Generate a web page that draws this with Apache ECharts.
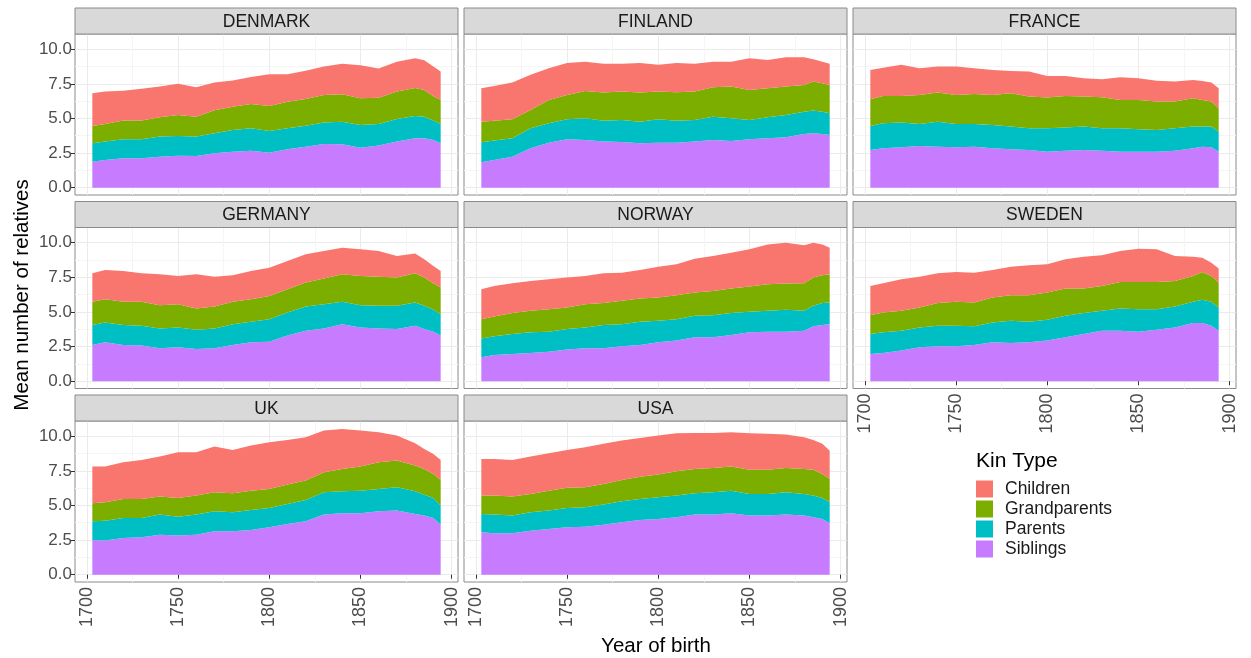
<!DOCTYPE html>
<html>
<head>
<meta charset="utf-8">
<script src="https://cdn.jsdelivr.net/npm/echarts@6/dist/echarts.min.js"></script>
<style>
html,body{margin:0;padding:0;background:#fff;}
#chart{width:1251px;height:658px;}
</style>
</head>
<body>
<div id="chart"></div>
<script>
// ---------- data ----------
const years = [1703,1710,1720,1730,1740,1750,1760,1770,1780,1790,1800,1810,1820,1830,1840,1850,1860,1870,1880,1885,1890,1894];
const countries = ['DENMARK','FINLAND','FRANCE','GERMANY','NORWAY','SWEDEN','UK','USA'];
const kinTypes = ['Children','Grandparents','Parents','Siblings'];
const yTicks = [0, 2.5, 5, 7.5, 10];
const yMinorTicks = [1.25, 3.75, 6.25, 8.75];
const xTicks = [1700, 1750, 1800, 1850, 1900];
const xMinorTicks = [1725, 1775, 1825, 1875];

const denmarkSiblings     = [1.88,2.00,2.12,2.12,2.24,2.31,2.29,2.48,2.60,2.67,2.53,2.77,2.96,3.16,3.13,2.89,3.04,3.33,3.57,3.57,3.45,3.20];
const denmarkParents      = [1.32,1.33,1.38,1.38,1.46,1.42,1.41,1.45,1.57,1.63,1.57,1.53,1.52,1.54,1.64,1.64,1.56,1.63,1.61,1.56,1.40,1.40];
const denmarkGrandparents = [1.26,1.27,1.35,1.35,1.38,1.52,1.43,1.67,1.68,1.75,1.80,1.90,1.92,2.00,1.98,1.92,1.90,1.99,2.02,1.92,1.75,1.75];
const denmarkChildren     = [2.36,2.34,2.15,2.30,2.22,2.25,2.12,2.00,1.90,1.95,2.30,2.00,2.05,2.05,2.20,2.40,2.10,2.15,2.15,2.15,2.15,2.05];

const finlandSiblings     = [1.83,2.00,2.24,2.84,3.25,3.49,3.45,3.33,3.30,3.20,3.25,3.25,3.33,3.45,3.37,3.49,3.57,3.64,3.88,3.93,3.88,3.81];
const finlandParents      = [1.45,1.40,1.33,1.45,1.40,1.45,1.56,1.51,1.59,1.57,1.69,1.59,1.56,1.68,1.64,1.40,1.51,1.61,1.61,1.64,1.61,1.56];
const finlandGrandparents = [1.49,1.44,1.37,1.32,1.69,1.76,1.98,2.03,2.05,2.10,2.00,2.05,2.05,2.12,2.29,2.17,2.10,2.05,1.93,2.09,2.05,2.05];
const finlandChildren     = [2.41,2.51,2.66,2.54,2.29,2.30,2.11,2.08,2.01,2.13,1.93,2.11,2.01,1.85,1.80,2.29,2.05,2.12,2.00,1.62,1.56,1.53];

const franceSiblings      = [2.72,2.84,2.92,3.01,2.96,2.92,2.96,2.84,2.77,2.72,2.60,2.67,2.72,2.67,2.60,2.60,2.60,2.67,2.84,2.96,2.92,2.60];
const franceParents       = [1.74,1.81,1.78,1.59,1.81,1.68,1.64,1.69,1.64,1.57,1.69,1.67,1.69,1.62,1.69,1.62,1.57,1.62,1.57,1.45,1.49,1.45];
const franceGrandparents  = [1.93,1.98,1.93,2.10,2.10,2.10,2.17,2.17,2.41,2.29,2.22,2.29,2.17,2.24,2.05,2.12,2.05,1.93,2.05,1.93,1.81,1.68];
const franceChildren      = [2.11,2.04,2.24,1.93,1.88,2.05,1.86,1.80,1.61,1.81,1.56,1.44,1.32,1.30,1.64,1.56,1.51,1.44,1.32,1.37,1.37,1.45];

const germanySiblings     = [2.61,2.81,2.61,2.57,2.37,2.45,2.33,2.37,2.61,2.81,2.85,3.29,3.65,3.81,4.12,3.88,3.81,3.77,4.00,3.77,3.57,3.29];
const germanyParents      = [1.44,1.43,1.44,1.43,1.44,1.43,1.39,1.44,1.51,1.48,1.63,1.67,1.75,1.75,1.61,1.61,1.63,1.67,1.68,1.67,1.59,1.55];
const germanyGrandparents = [1.68,1.68,1.68,1.73,1.68,1.68,1.53,1.59,1.61,1.63,1.68,1.68,1.72,1.85,1.99,2.11,2.11,2.04,2.11,2.04,1.91,1.92];
const germanyChildren     = [2.06,2.11,2.23,2.06,2.23,2.04,2.47,2.15,1.92,2.04,2.04,2.04,2.04,1.99,1.92,1.92,1.85,1.56,1.44,1.32,1.25,1.20];

const norwaySiblings      = [1.73,1.89,1.97,2.04,2.13,2.28,2.37,2.37,2.52,2.61,2.81,2.93,3.17,3.17,3.33,3.53,3.57,3.57,3.65,3.96,4.05,4.12];
const norwayParents       = [1.36,1.35,1.44,1.49,1.44,1.49,1.51,1.68,1.60,1.68,1.55,1.55,1.55,1.60,1.59,1.48,1.51,1.59,1.43,1.48,1.59,1.56];
const norwayGrandparents  = [1.39,1.44,1.51,1.55,1.63,1.55,1.68,1.59,1.68,1.68,1.68,1.73,1.68,1.75,1.77,1.82,1.92,1.89,1.99,2.04,2.01,2.04];
const norwayChildren      = [2.16,2.20,2.15,2.16,2.16,2.16,2.04,2.15,2.04,2.06,2.23,2.23,2.45,2.52,2.59,2.69,2.88,2.95,2.74,2.52,2.23,1.92];

const swedenSiblings      = [1.97,2.04,2.21,2.45,2.52,2.52,2.61,2.81,2.76,2.81,2.93,3.17,3.41,3.65,3.65,3.57,3.72,3.88,4.20,4.20,4.00,3.65];
const swedenParents       = [1.44,1.49,1.44,1.43,1.48,1.48,1.35,1.43,1.60,1.48,1.51,1.55,1.51,1.43,1.60,1.63,1.48,1.52,1.53,1.68,1.73,1.67];
const swedenGrandparents  = [1.36,1.43,1.43,1.44,1.64,1.73,1.72,1.80,1.85,1.92,1.96,1.97,1.77,1.80,1.92,1.97,1.97,1.84,1.87,2.01,1.87,1.80];
const swedenChildren      = [2.11,2.11,2.28,2.23,2.15,2.16,2.16,1.99,2.06,2.16,2.04,2.11,2.30,2.21,2.23,2.40,2.35,1.80,1.39,1.03,0.96,1.01];

const ukSiblings          = [2.51,2.46,2.65,2.70,2.89,2.82,2.89,3.13,3.13,3.23,3.42,3.66,3.86,4.34,4.43,4.43,4.58,4.63,4.39,4.27,4.10,3.61];
const ukParents           = [1.35,1.44,1.45,1.40,1.45,1.37,1.45,1.45,1.38,1.44,1.40,1.45,1.54,1.61,1.59,1.64,1.61,1.68,1.63,1.51,1.44,1.38];
const ukGrandparents      = [1.30,1.33,1.37,1.37,1.30,1.35,1.37,1.37,1.37,1.40,1.37,1.40,1.40,1.45,1.62,1.74,1.93,1.93,1.86,1.86,1.74,1.85];
const ukChildren          = [2.65,2.58,2.65,2.82,2.89,3.30,3.13,3.30,3.13,3.26,3.38,3.22,3.13,3.01,2.89,2.60,2.17,1.81,1.61,1.44,1.44,1.45];

const usaSiblings         = [3.06,2.99,2.99,3.18,3.30,3.42,3.47,3.61,3.78,3.95,4.02,4.14,4.34,4.34,4.43,4.27,4.27,4.34,4.27,4.14,4.02,3.71];
const usaParents          = [1.33,1.35,1.28,1.33,1.33,1.40,1.40,1.45,1.52,1.52,1.57,1.57,1.54,1.61,1.64,1.56,1.56,1.61,1.56,1.57,1.52,1.52];
const usaGrandparents     = [1.32,1.37,1.37,1.32,1.44,1.45,1.44,1.49,1.54,1.61,1.64,1.76,1.76,1.76,1.74,1.74,1.74,1.76,1.81,1.86,1.74,1.69];
const usaChildren         = [2.65,2.65,2.65,2.70,2.70,2.74,2.89,2.90,2.85,2.80,2.82,2.75,2.60,2.53,2.48,2.65,2.60,2.41,2.29,2.16,2.17,2.04];

// ---------- lookup built from the arrays ----------
const valuesByCountry = {
  DENMARK: {Siblings: denmarkSiblings, Parents: denmarkParents, Grandparents: denmarkGrandparents, Children: denmarkChildren},
  FINLAND: {Siblings: finlandSiblings, Parents: finlandParents, Grandparents: finlandGrandparents, Children: finlandChildren},
  FRANCE:  {Siblings: franceSiblings,  Parents: franceParents,  Grandparents: franceGrandparents,  Children: franceChildren},
  GERMANY: {Siblings: germanySiblings, Parents: germanyParents, Grandparents: germanyGrandparents, Children: germanyChildren},
  NORWAY:  {Siblings: norwaySiblings,  Parents: norwayParents,  Grandparents: norwayGrandparents,  Children: norwayChildren},
  SWEDEN:  {Siblings: swedenSiblings,  Parents: swedenParents,  Grandparents: swedenGrandparents,  Children: swedenChildren},
  UK:      {Siblings: ukSiblings,      Parents: ukParents,      Grandparents: ukGrandparents,      Children: ukChildren},
  USA:     {Siblings: usaSiblings,     Parents: usaParents,     Grandparents: usaGrandparents,     Children: usaChildren}
};

// ---------- styling / layout ----------
const kinColors = {Children:'#F8766D', Grandparents:'#7CAE00', Parents:'#00BFC4', Siblings:'#C77CFF'};
const stackOrder = ['Siblings','Parents','Grandparents','Children'];
const FONT = '"Liberation Sans", Arial, sans-serif';
const colLeft = [75, 464, 853];
const panelW = 383;
const stripTop = [8, 201.5, 395];
const stripH = 26;
const plotH = 161;
const xMin = 1693.5, xMax = 1903.5;
const yMin = -0.53, yMax = 11.1;
const gridMajor = '#EBEBEB', gridMinor = '#F5F5F5';
const borderCol = '#8A8A8A';

const grids = [], xAxes = [], yAxes = [], series = [], graphics = [];

countries.forEach((c, i) => {
  const row = Math.floor(i / 3), col = i % 3;
  const left = colLeft[col], top = stripTop[row] + stripH;
  const showX = (row === 2) || (row === 1 && col === 2);
  const showY = (col === 0);
  grids.push({left: left, top: top, width: panelW, height: plotH, show: true,
    backgroundColor: '#fff', borderColor: borderCol, borderWidth: 1, containLabel: false});
  // main x axis
  xAxes.push({type: 'value', gridIndex: i, min: xMin, max: xMax, position: 'bottom',
    axisLine: {show: false},
    axisTick: {show: showX, customValues: xTicks, length: 4, lineStyle: {color: '#333'}},
    axisLabel: {show: showX, customValues: xTicks, rotate: 90, margin: 5,
      fontFamily: FONT, fontSize: 18, color: '#4D4D4D', formatter: v => String(v)},
    splitLine: {show: true, lineStyle: {color: gridMajor, width: 1}}});
  // minor x axis (grid lines only)
  xAxes.push({type: 'value', gridIndex: i, min: xMin, max: xMax, position: 'top',
    axisLine: {show: false},
    axisTick: {show: false, customValues: xMinorTicks},
    axisLabel: {show: false},
    splitLine: {show: true, lineStyle: {color: gridMinor, width: 1}}});
  yAxes.push({type: 'value', gridIndex: i, min: yMin, max: yMax, position: 'left',
    axisLine: {show: false},
    axisTick: {show: showY, customValues: yTicks, length: 4, lineStyle: {color: '#333'}},
    axisLabel: {show: showY, customValues: yTicks, margin: 3,
      fontFamily: FONT, fontSize: 17, color: '#4D4D4D', formatter: v => v.toFixed(1)},
    splitLine: {show: true, lineStyle: {color: gridMajor, width: 1}}});
  yAxes.push({type: 'value', gridIndex: i, min: yMin, max: yMax, position: 'right',
    axisLine: {show: false},
    axisTick: {show: false, customValues: yMinorTicks},
    axisLabel: {show: false},
    splitLine: {show: true, lineStyle: {color: gridMinor, width: 1}}});

  stackOrder.forEach(k => {
    const vals = valuesByCountry[c][k];
    series.push({
      name: k, type: 'line', xAxisIndex: 2 * i, yAxisIndex: 2 * i,
      stack: 'kin' + i, showSymbol: false, symbol: 'none', smooth: false,
      lineStyle: {width: 0}, itemStyle: {color: kinColors[k]},
      areaStyle: {color: kinColors[k], opacity: 1},
      silent: true, z: 2,
      // value first so that the library stacks the value dimension (y)
      encode: {x: 1, y: 0},
      data: years.map((y, j) => [vals[j], y])
    });
  });

  // strip
  graphics.push({type: 'rect', shape: {x: left, y: stripTop[row], width: panelW, height: stripH},
    style: {fill: '#D9D9D9', stroke: borderCol, lineWidth: 1}, z: 10});
  graphics.push({type: 'text', x: left + panelW / 2, y: stripTop[row] + stripH / 2 + 1,
    style: {text: c, fill: '#1A1A1A', font: '17.5px ' + FONT, align: 'center', verticalAlign: 'middle'}, z: 11});
});

// axis titles and legend title
graphics.push({type: 'text', x: 656, y: 646,
  style: {text: 'Year of birth', fill: '#000', font: '20.5px ' + FONT, align: 'center', verticalAlign: 'middle'}});
graphics.push({type: 'text', x: 22, y: 295, rotation: Math.PI / 2,
  style: {text: 'Mean number of relatives', fill: '#000', font: '20.5px ' + FONT, align: 'center', verticalAlign: 'middle'}});
graphics.push({type: 'text', x: 976, y: 461,
  style: {text: 'Kin Type', fill: '#000', font: '21px ' + FONT, align: 'left', verticalAlign: 'middle'}});

const chart = echarts.init(document.getElementById('chart'), null, {renderer: 'canvas'});
chart.setOption({
  animation: false,
  backgroundColor: '#fff',
  grid: grids,
  xAxis: xAxes,
  yAxis: yAxes,
  series: series,
  legend: {
    data: kinTypes, orient: 'vertical', left: 976, top: 480, padding: 0,
    icon: 'rect', itemWidth: 17, itemHeight: 17, itemGap: 2, selectedMode: false,
    textStyle: {fontFamily: FONT, fontSize: 17.5, color: '#1A1A1A', padding: [0, 0, 0, 7], lineHeight: 17}
  },
  graphic: graphics
});
</script>
</body>
</html>
